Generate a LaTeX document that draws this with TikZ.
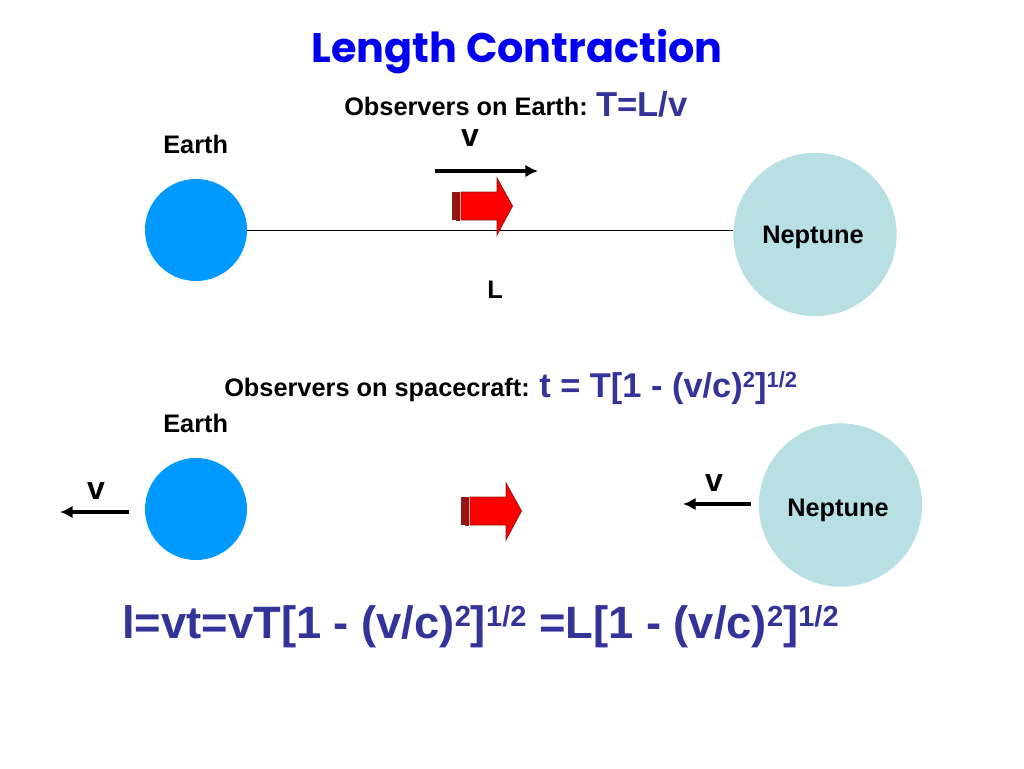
\documentclass[tikz,border=0pt]{standalone}
\usepackage{fontspec}
\setmainfont{Liberation Sans}
\newfontfamily\titlefont{Poppins}
\usetikzlibrary{arrows.meta}
\definecolor{indigoT}{HTML}{333399}
\definecolor{earthC}{HTML}{0099FF}
\definecolor{nepC}{HTML}{B8DFE3}
\definecolor{titleC}{HTML}{0000F0}
\definecolor{darkR}{HTML}{8B1A1A}
\newcommand{\supS}[1]{\raisebox{7pt}{\fontsize{16.5}{17}\selectfont #1}}
\newcommand{\supB}[1]{\raisebox{9pt}{\fontsize{21.8}{23}\selectfont #1}}
\tikzset{
  lab/.style={font=\fontsize{19}{21}\selectfont\bfseries,text=black,inner sep=0pt,anchor=base west},
  vlab/.style={font=\fontsize{24}{26}\selectfont\bfseries,text=black,inner sep=0pt,anchor=base},
  eqs/.style={font=\fontsize{25.8}{28}\selectfont\bfseries,text=indigoT,inner sep=0pt,anchor=base west},
  eqb/.style={font=\fontsize{34}{36}\selectfont\bfseries,text=indigoT,inner sep=0pt,anchor=base west},
  planetE/.style={circle,fill=earthC,minimum size=76.5pt,inner sep=0pt},
  planetN/.style={circle,fill=nepC,minimum size=122.5pt,inner sep=0pt},
  varrow/.style={line width=2.8pt,-{Latex[length=9.5pt,width=9.5pt]}},
  pics/ship/.style={code={
    \fill[red,draw=darkR,line width=0.6pt] (461,192) -- (497,192) -- (497,178) -- (512.5,206) -- (497,235) -- (497,220) -- (461,220) -- cycle;
    \fill[red!70!black,draw=darkR,line width=0.3pt] (456.5,192) rectangle (459.5,220);
    \fill[darkR] (452,192) rectangle (455.5,220);
  }}
}
\begin{document}
\begin{tikzpicture}[x=0.75pt,y=-0.75pt]
\useasboundingbox (0,0) rectangle (1024,768);
\node[inner sep=0pt,anchor=base,font=\titlefont\fontsize{31}{33}\selectfont\bfseries,text=titleC] (title) at (517,62) {Length Contraction};
\node[lab] (obs1) at (344,115) {Observers on Earth:};
\node[eqs,font=\fontsize{26}{28}\selectfont\bfseries] (eq1) at (596,116) {T=L/v};

\node[planetE] (earth1) at (196,230) {};
\node[planetN] (nep1) at (815,234.5) {};
\draw[line width=0.7pt] (earth1.east) -- (earth1.east -| nep1.west);
\node[lab] (e1lab) at (163,153) {Earth};
\node[lab] (n1lab) at (762,243) {Neptune};
\node[lab] (Llab) at (487,298) {L};
\node[vlab] (v1) at (470,146) {v};
\coordinate (a1s) at (435,171);
\coordinate (a1e) at (538,171);
\draw[varrow] (a1s) -- (a1e);
\pic {ship};

\node[lab] (obs2) at (224,396) {Observers on spacecraft:};
\node[eqs] (eq2) at (539,397) {t = T[1 - (v/c)\supS{2}]\supS{1/2}};
\node[lab] (e2lab) at (163,432) {Earth};
\node[planetE] (earth2) at (196,509) {};
\node[planetN] (nep2) at (840.5,505) {};
\node[lab] (n2lab) at (787,516) {Neptune};
\node[vlab] (v2) at (96,499) {v};
\node[vlab] (v3) at (714,491) {v};
\coordinate (a2s) at (129,512);
\coordinate (a2e) at (60,512);
\coordinate (a3s) at (751,504);
\coordinate (a3e) at (683,504);
\draw[varrow] (a2s) -- (a2e);
\draw[varrow] (a3s) -- (a3e);
\pic[shift={(9,305)}] {ship};

\node[eqb] (eq3) at (122,638.5) {l=vt=vT[1 - (v/c)\supB{2}]\supB{1/2} =L[1 - (v/c)\supB{2}]\supB{1/2}};
\end{tikzpicture}
\end{document}
